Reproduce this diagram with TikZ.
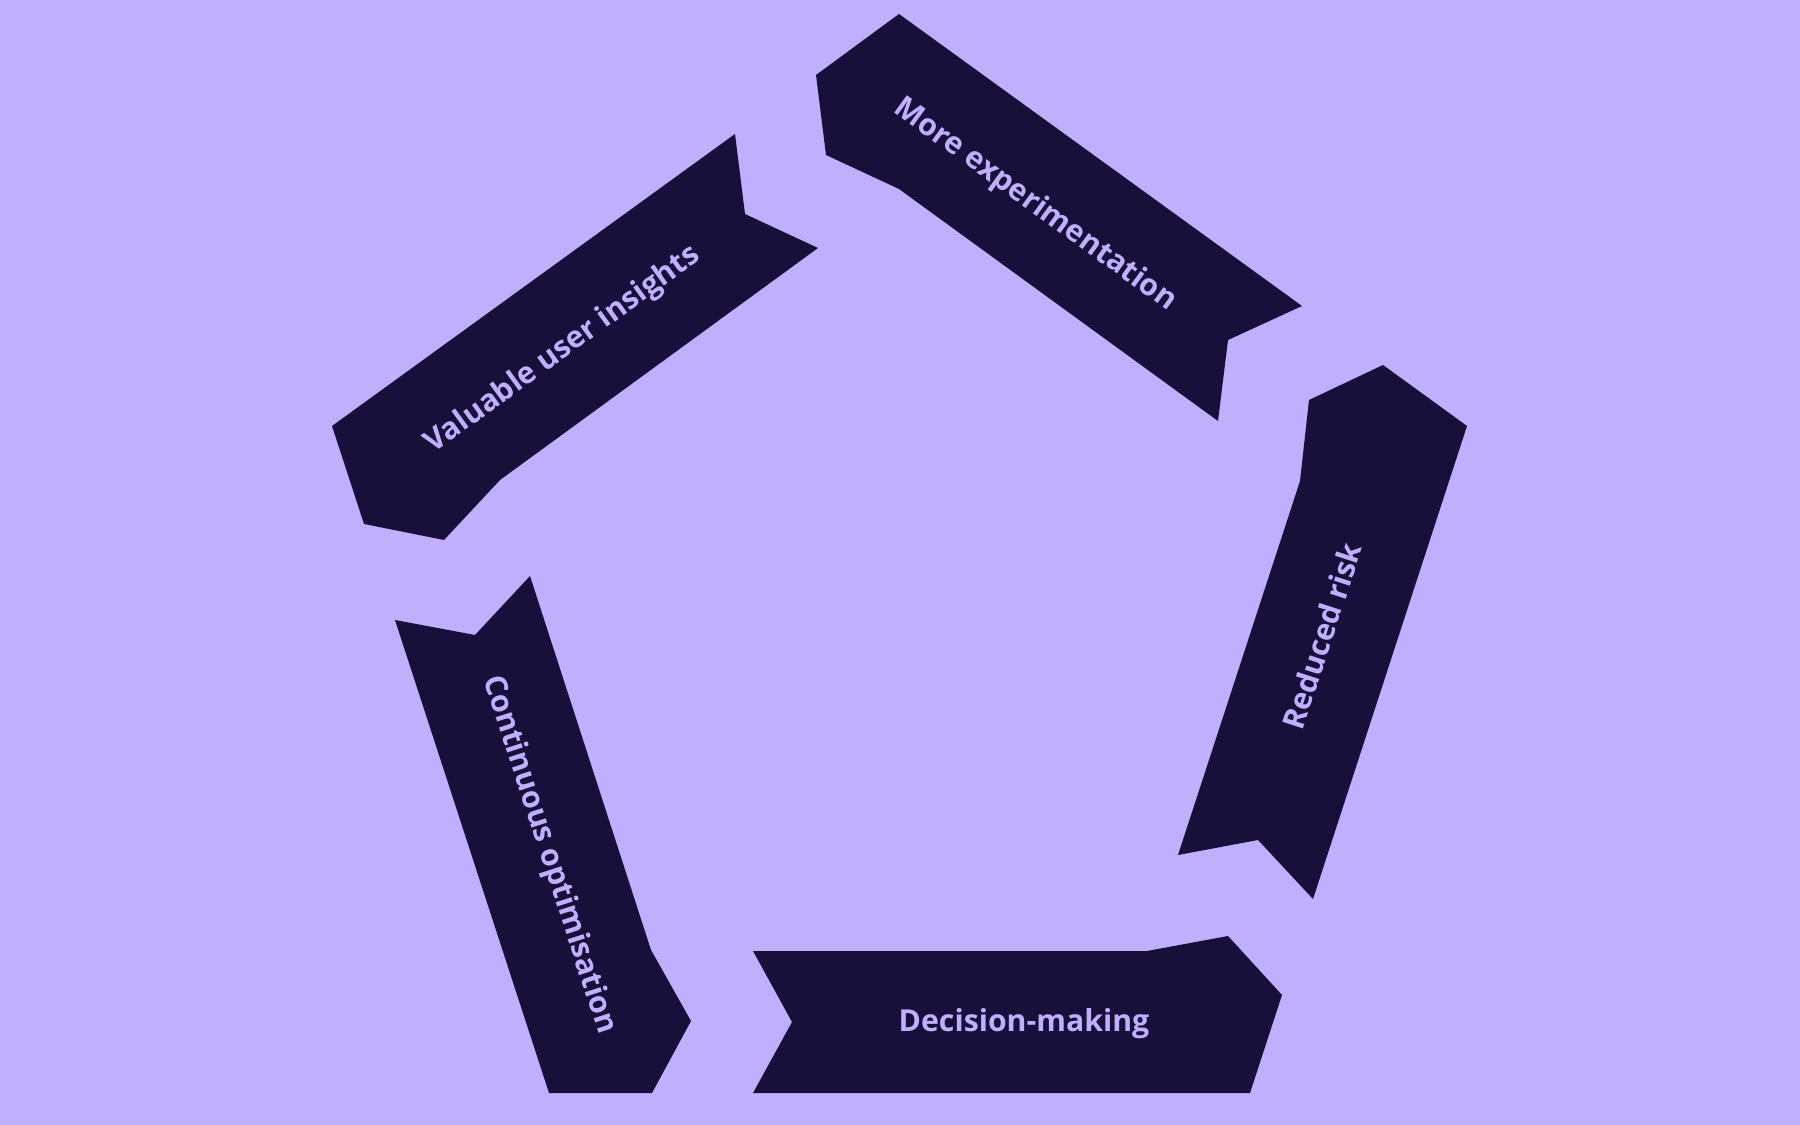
\documentclass[tikz,border=0pt]{standalone}
\usepackage{fontspec}
\setmainfont{Open Sans}
\definecolor{bg}{HTML}{C0AEFE}
\definecolor{dk}{HTML}{17103A}
\begin{document}
\begin{tikzpicture}[x=0.01cm,y=-0.01cm,
  arr/.style={fill=dk,draw=none},
  lab/.style={text=bg,font=\bfseries\fontsize{8.6}{10}\selectfont,inner sep=0}]
\fill[bg] (0,0) rectangle (1800,1125);
\useasboundingbox (0,0) rectangle (1800,1125);
\fill[arr] (753,951)--(1147,951)--(1228,936)--(1282,995)--(1250,1093)--(753,1093)--(792,1022)--cycle;
\fill[arr] (395,620)--(475,635)--(530,576)--(651,950)--(691,1021)--(652,1093)--(549,1093)--cycle;
\fill[arr] (332,426)--(735,134)--(745,214)--(818,248)--(500,480)--(444,540)--(364,524)--cycle;
\fill[arr] (816,75)--(899,14)--(1302,306)--(1228,340)--(1218,421)--(899,189)--(826,155)--cycle;
\fill[arr] (1309,400)--(1383,365)--(1467,426)--(1313,899)--(1258,840)--(1178,855)--(1300,481)--cycle;
\node[lab] (d) at (1024,1024) {Decision-making};
\node[lab,rotate=-72] (c) at (549,855) {Continuous optimisation};
\node[lab,rotate=36] (v) at (563,350) {Valuable user insights};
\node[lab,rotate=-36] (m) at (1035,205) {More experimentation};
\node[lab,rotate=72] (r) at (1322,636) {Reduced risk};
\end{tikzpicture}
\end{document}
